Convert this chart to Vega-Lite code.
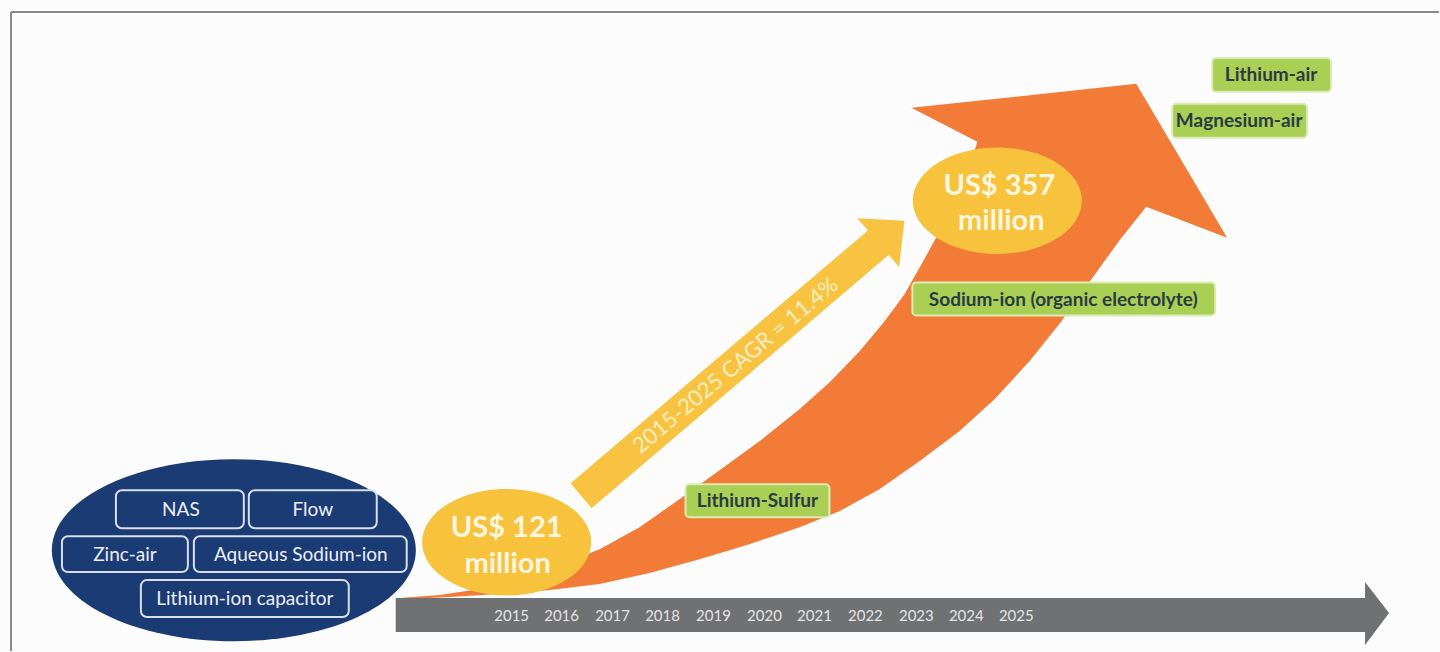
{
  "$schema": "https://vega.github.io/schema/vega-lite/v6.json",
  "width": 1440,
  "height": 652,
  "autosize": {"type": "fit", "contains": "padding"},
  "padding": 0,
  "background": "#fcfcfc",
  "config": {"view": {"stroke": null}, "font": "Lato"},
  "datasets": {
    "border": [
      {"x": 11, "y": 12, "x2": 1440, "y2": 12},
      {"x": 11, "y": 12, "x2": 11, "y2": 652}
    ],
    "poly": [
      {"g": "orange", "i": 0, "x": 400, "y": 599},
      {"g": "orange", "i": 1, "x": 440, "y": 596},
      {"g": "orange", "i": 2, "x": 480, "y": 590},
      {"g": "orange", "i": 3, "x": 520, "y": 580},
      {"g": "orange", "i": 4, "x": 560, "y": 566},
      {"g": "orange", "i": 5, "x": 600, "y": 550},
      {"g": "orange", "i": 6, "x": 640, "y": 528},
      {"g": "orange", "i": 7, "x": 680, "y": 500},
      {"g": "orange", "i": 8, "x": 720, "y": 471},
      {"g": "orange", "i": 9, "x": 760, "y": 442},
      {"g": "orange", "i": 10, "x": 800, "y": 410},
      {"g": "orange", "i": 11, "x": 830, "y": 383},
      {"g": "orange", "i": 12, "x": 860, "y": 352},
      {"g": "orange", "i": 13, "x": 885, "y": 322},
      {"g": "orange", "i": 14, "x": 905, "y": 295},
      {"g": "orange", "i": 15, "x": 922, "y": 265},
      {"g": "orange", "i": 16, "x": 940, "y": 232},
      {"g": "orange", "i": 17, "x": 958, "y": 196},
      {"g": "orange", "i": 18, "x": 970, "y": 168},
      {"g": "orange", "i": 19, "x": 978, "y": 142},
      {"g": "orange", "i": 20, "x": 912, "y": 108},
      {"g": "orange", "i": 21, "x": 1137, "y": 84},
      {"g": "orange", "i": 22, "x": 1228, "y": 238},
      {"g": "orange", "i": 23, "x": 1147, "y": 207},
      {"g": "orange", "i": 24, "x": 1120, "y": 241},
      {"g": "orange", "i": 25, "x": 1092, "y": 280},
      {"g": "orange", "i": 26, "x": 1062, "y": 322},
      {"g": "orange", "i": 27, "x": 1030, "y": 362},
      {"g": "orange", "i": 28, "x": 995, "y": 400},
      {"g": "orange", "i": 29, "x": 960, "y": 432},
      {"g": "orange", "i": 30, "x": 920, "y": 462},
      {"g": "orange", "i": 31, "x": 880, "y": 490},
      {"g": "orange", "i": 32, "x": 840, "y": 512},
      {"g": "orange", "i": 33, "x": 800, "y": 528},
      {"g": "orange", "i": 34, "x": 750, "y": 545},
      {"g": "orange", "i": 35, "x": 700, "y": 560},
      {"g": "orange", "i": 36, "x": 650, "y": 574},
      {"g": "orange", "i": 37, "x": 600, "y": 585},
      {"g": "orange", "i": 38, "x": 550, "y": 591},
      {"g": "orange", "i": 39, "x": 500, "y": 595},
      {"g": "orange", "i": 40, "x": 450, "y": 598},
      {"g": "orange", "i": 41, "x": 410, "y": 600},
      {"g": "gray", "i": 0, "x": 396, "y": 599},
      {"g": "gray", "i": 1, "x": 1366, "y": 599},
      {"g": "gray", "i": 2, "x": 1366, "y": 583},
      {"g": "gray", "i": 3, "x": 1390, "y": 614},
      {"g": "gray", "i": 4, "x": 1366, "y": 646},
      {"g": "gray", "i": 5, "x": 1366, "y": 633},
      {"g": "gray", "i": 6, "x": 396, "y": 633},
      {"g": "yellow", "i": 0, "x": 571, "y": 484},
      {"g": "yellow", "i": 1, "x": 868.6, "y": 230.8},
      {"g": "yellow", "i": 2, "x": 858, "y": 218.6},
      {"g": "yellow", "i": 3, "x": 905, "y": 221},
      {"g": "yellow", "i": 4, "x": 899.7, "y": 267.4},
      {"g": "yellow", "i": 5, "x": 889.4, "y": 255.2},
      {"g": "yellow", "i": 6, "x": 592, "y": 509}
    ],
    "ellipses": [
      {"g": "navy", "x": 234, "y": 551},
      {"g": "gold", "x": 507, "y": 543},
      {"g": "gold", "x": 998, "y": 201}
    ],
    "boxes": [
      {"g": "white", "x": 116, "x2": 244, "y": 491, "y2": 529},
      {"g": "white", "x": 249, "x2": 377, "y": 491, "y2": 529},
      {"g": "white", "x": 62, "x2": 188, "y": 537, "y2": 573},
      {"g": "white", "x": 194, "x2": 407, "y": 537, "y2": 573},
      {"g": "white", "x": 141, "x2": 349, "y": 581, "y2": 618},
      {"g": "green", "x": 1213, "x2": 1332, "y": 58, "y2": 92},
      {"g": "green", "x": 1173, "x2": 1308, "y": 104, "y2": 138},
      {"g": "green", "x": 913, "x2": 1216, "y": 283, "y2": 316},
      {"g": "green", "x": 686, "x2": 830, "y": 485, "y2": 518}
    ],
    "labels": [
      {"g": "white", "t": "NAS", "x": 181, "y": 511},
      {"g": "white", "t": "Flow", "x": 313, "y": 511},
      {"g": "white", "t": "Zinc-air", "x": 125, "y": 556},
      {"g": "white", "t": "Aqueous Sodium-ion", "x": 301, "y": 556},
      {"g": "white", "t": "Lithium-ion capacitor", "x": 245, "y": 600},
      {"g": "green", "t": "Lithium-air", "x": 1272, "y": 75},
      {"g": "green", "t": "Magnesium-air", "x": 1240, "y": 121},
      {"g": "green", "t": "Sodium-ion (organic electrolyte)", "x": 1064, "y": 300},
      {"g": "green", "t": "Lithium-Sulfur", "x": 758, "y": 502},
      {"g": "big", "t": "US$ 121", "x": 507, "y": 529},
      {"g": "big", "t": "million", "x": 508, "y": 565},
      {"g": "big", "t": "US$ 357", "x": 1000, "y": 186},
      {"g": "big", "t": "million", "x": 1002, "y": 221},
      {"g": "year", "t": "2015", "x": 512, "y": 617},
      {"g": "year", "t": "2016", "x": 562, "y": 617},
      {"g": "year", "t": "2017", "x": 613, "y": 617},
      {"g": "year", "t": "2018", "x": 663, "y": 617},
      {"g": "year", "t": "2019", "x": 714, "y": 617},
      {"g": "year", "t": "2020", "x": 765, "y": 617},
      {"g": "year", "t": "2021", "x": 815, "y": 617},
      {"g": "year", "t": "2022", "x": 866, "y": 617},
      {"g": "year", "t": "2023", "x": 917, "y": 617},
      {"g": "year", "t": "2024", "x": 967, "y": 617},
      {"g": "year", "t": "2025", "x": 1017, "y": 617},
      {"g": "cagr", "t": "2015-2025 CAGR = 11.4%", "x": 736, "y": 366}
    ]
  },
  "encoding": {
    "x": {"field": "x", "type": "quantitative", "scale": {"domain": [0, 1440], "nice": false, "zero": false}, "axis": null},
    "y": {"field": "y", "type": "quantitative", "scale": {"domain": [0, 652], "reverse": true, "nice": false, "zero": false}, "axis": null}
  },
  "layer": [
    {
      "data": {"name": "border"},
      "mark": {"type": "rule", "color": "#8a8a8a", "strokeWidth": 2},
      "encoding": {"x2": {"field": "x2"}, "y2": {"field": "y2"}}
    },
    {
      "data": {"name": "poly"},
      "transform": [{"filter": "datum.g === 'orange'"}],
      "mark": {"type": "line", "filled": true, "color": "#f27b37", "strokeWidth": 0, "opacity": 1},
      "encoding": {"order": {"field": "i", "type": "quantitative"}}
    },
    {
      "data": {"name": "poly"},
      "transform": [{"filter": "datum.g === 'gray'"}],
      "mark": {"type": "line", "filled": true, "color": "#6f7173", "strokeWidth": 0, "opacity": 1},
      "encoding": {"order": {"field": "i", "type": "quantitative"}}
    },
    {
      "data": {"name": "poly"},
      "transform": [{"filter": "datum.g === 'yellow'"}],
      "mark": {"type": "line", "filled": true, "color": "#f8c340", "strokeWidth": 0, "opacity": 1},
      "encoding": {"order": {"field": "i", "type": "quantitative"}}
    },
    {
      "data": {"name": "ellipses"},
      "transform": [{"filter": "datum.g === 'navy'"}],
      "mark": {"type": "point", "filled": true, "color": "#1a3b73", "opacity": 1, "size": 132496, "shape": "M-1,0A1,0.5,0,1,1,1,0A1,0.5,0,1,1,-1,0Z"}
    },
    {
      "data": {"name": "ellipses"},
      "transform": [{"filter": "datum.g === 'gold'"}],
      "mark": {"type": "point", "filled": true, "color": "#f8c33c", "opacity": 1, "size": 28561, "shape": "M-1,0A1,0.63,0,1,1,1,0A1,0.63,0,1,1,-1,0Z"}
    },
    {
      "data": {"name": "boxes"},
      "transform": [{"filter": "datum.g === 'white'"}],
      "mark": {"type": "rect", "fill": null, "fillOpacity": 0, "stroke": "#d9dee8", "strokeWidth": 2, "cornerRadius": 6},
      "encoding": {"x2": {"field": "x2"}, "y2": {"field": "y2"}}
    },
    {
      "data": {"name": "boxes"},
      "transform": [{"filter": "datum.g === 'green'"}],
      "mark": {"type": "rect", "fill": "#a9cf55", "stroke": "#dcecb4", "strokeWidth": 2, "cornerRadius": 4},
      "encoding": {"x2": {"field": "x2"}, "y2": {"field": "y2"}}
    },
    {
      "data": {"name": "labels"},
      "transform": [{"filter": "datum.g === 'white'"}],
      "mark": {"type": "text", "color": "#eef0f5", "fontSize": 19, "font": "Lato", "align": "center", "baseline": "middle"},
      "encoding": {"text": {"field": "t"}}
    },
    {
      "data": {"name": "labels"},
      "transform": [{"filter": "datum.g === 'green'"}],
      "mark": {"type": "text", "color": "#2b3b45", "fontSize": 19, "fontWeight": "bold", "font": "Lato", "align": "center", "baseline": "middle"},
      "encoding": {"text": {"field": "t"}}
    },
    {
      "data": {"name": "labels"},
      "transform": [{"filter": "datum.g === 'big'"}],
      "mark": {"type": "text", "color": "#fff6e0", "fontSize": 29, "fontWeight": "bold", "font": "Lato", "align": "center", "baseline": "middle"},
      "encoding": {"text": {"field": "t"}}
    },
    {
      "data": {"name": "labels"},
      "transform": [{"filter": "datum.g === 'year'"}],
      "mark": {"type": "text", "color": "#e4e4e4", "fontSize": 15, "font": "Lato", "align": "center", "baseline": "middle"},
      "encoding": {"text": {"field": "t"}}
    },
    {
      "data": {"name": "labels"},
      "transform": [{"filter": "datum.g === 'cagr'"}],
      "mark": {"type": "text", "color": "#fdeec4", "fontSize": 22, "font": "Lato", "align": "center", "baseline": "middle", "angle": 320},
      "encoding": {"text": {"field": "t"}}
    }
  ]
}
